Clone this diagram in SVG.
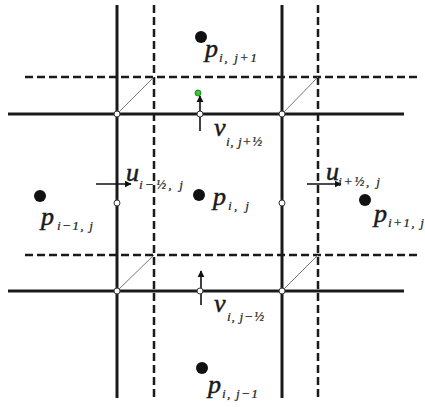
<svg xmlns="http://www.w3.org/2000/svg" width="425" height="407" viewBox="0 0 425 407">
<defs>
<style>
.solid{stroke:#1a1a1a;stroke-width:3;fill:none}
.dash{stroke:#1a1a1a;stroke-width:2.5;stroke-dasharray:8 4;fill:none}
.diag{stroke:#777;stroke-width:1;fill:none}
.arr{stroke:#111;stroke-width:1.6;fill:none;marker-end:url(#ah)}
.node{fill:#111}
.pt{fill:#fff;stroke:#333;stroke-width:1}
text{font-family:'Liberation Serif','DejaVu Serif',serif;font-style:italic}
.m{font-size:26px;fill:#1a1a1a;stroke:#1a1a1a;stroke-width:0.5}
.s{font-size:13.5px;fill:#222;stroke:#222;stroke-width:0.2}
</style>
<marker id="ah" viewBox="0 0 10 10" refX="9" refY="5" markerWidth="4.5" markerHeight="4.5" orient="auto" markerUnits="strokeWidth">
<path d="M0,0 L10,5 L0,10 z" fill="#111"/>
</marker>
</defs>
<rect width="425" height="407" fill="#fff"/>
<g id="grid">
<line class="solid" x1="117" y1="5" x2="117" y2="398"/>
<line class="solid" x1="282" y1="5" x2="282" y2="398"/>
<line class="solid" x1="8" y1="114" x2="404" y2="114"/>
<line class="solid" x1="8" y1="291" x2="404" y2="291"/>
<line class="dash" x1="154" y1="5" x2="154" y2="398"/>
<line class="dash" x1="318" y1="5" x2="318" y2="398"/>
<line class="dash" x1="25" y1="77" x2="419" y2="77"/>
<line class="dash" x1="25" y1="255" x2="419" y2="255"/>
<line class="diag" x1="117" y1="114" x2="154" y2="77"/>
<line class="diag" x1="282" y1="114" x2="318" y2="77"/>
<line class="diag" x1="117" y1="291" x2="154" y2="255"/>
<line class="diag" x1="282" y1="291" x2="318" y2="255"/>
</g>
<g id="connectors">
<line class="arr" x1="96" y1="184" x2="131" y2="184"/>
<line class="arr" x1="307" y1="184" x2="341" y2="184"/>
<line class="arr" x1="200" y1="131" x2="200" y2="96"/>
<line class="arr" x1="201" y1="305" x2="201" y2="271"/>
</g>
<g id="faces">
<circle class="pt" cx="117" cy="114" r="3"/>
<circle class="pt" cx="282" cy="114" r="3"/>
<circle class="pt" cx="117" cy="291" r="3"/>
<circle class="pt" cx="282" cy="291" r="3"/>
<circle class="pt" cx="200" cy="114" r="3"/>
<circle class="pt" cx="200" cy="291" r="3"/>
<circle class="pt" cx="117" cy="203" r="3"/>
<circle class="pt" cx="282" cy="203" r="3"/>
<circle cx="198" cy="93" r="3" fill="#2ecc2e" stroke="#1a6b1a" stroke-width="0.8"/>
</g>
<g id="p_ij1"><circle class="node" cx="201" cy="37" r="6"/><text class="m" x="205" y="57">p</text><text class="s" x="219" y="62" textLength="38" lengthAdjust="spacing">i, j+1</text></g>
<g id="p_ij"><circle class="node" cx="199" cy="195" r="6"/><text class="m" x="213" y="205">p</text><text class="s" x="228" y="210" textLength="21" lengthAdjust="spacing">i, j</text></g>
<g id="p_im1j"><circle class="node" cx="40" cy="196" r="6"/><text class="m" x="41" y="225">p</text><text class="s" x="57" y="230" textLength="36" lengthAdjust="spacing">i−1, j</text></g>
<g id="p_ip1j"><circle class="node" cx="365" cy="200" r="6"/><text class="m" x="374" y="222">p</text><text class="s" x="388" y="227" textLength="36" lengthAdjust="spacing">i+1, j</text></g>
<g id="p_ijm1"><circle class="node" cx="202" cy="368" r="6"/><text class="m" x="208" y="393">p</text><text class="s" x="222" y="398" textLength="36" lengthAdjust="spacing">i, j−1</text></g>
<g id="v_top"><text class="m" x="214" y="136">v</text><text class="s" x="226" y="146" textLength="36" lengthAdjust="spacing">i, j+½</text></g>
<g id="v_bot"><text class="m" x="214" y="312">v</text><text class="s" x="227" y="321" textLength="37" lengthAdjust="spacing">i, j−½</text></g>
<g id="u_left"><text class="m" x="126" y="181">u</text><text class="s" x="139" y="189" textLength="44" lengthAdjust="spacing">i−½, j</text></g>
<g id="u_right"><text class="m" x="326" y="180">u</text><text class="s" x="338" y="186" textLength="42" lengthAdjust="spacing">i+½, j</text></g>
</svg>
